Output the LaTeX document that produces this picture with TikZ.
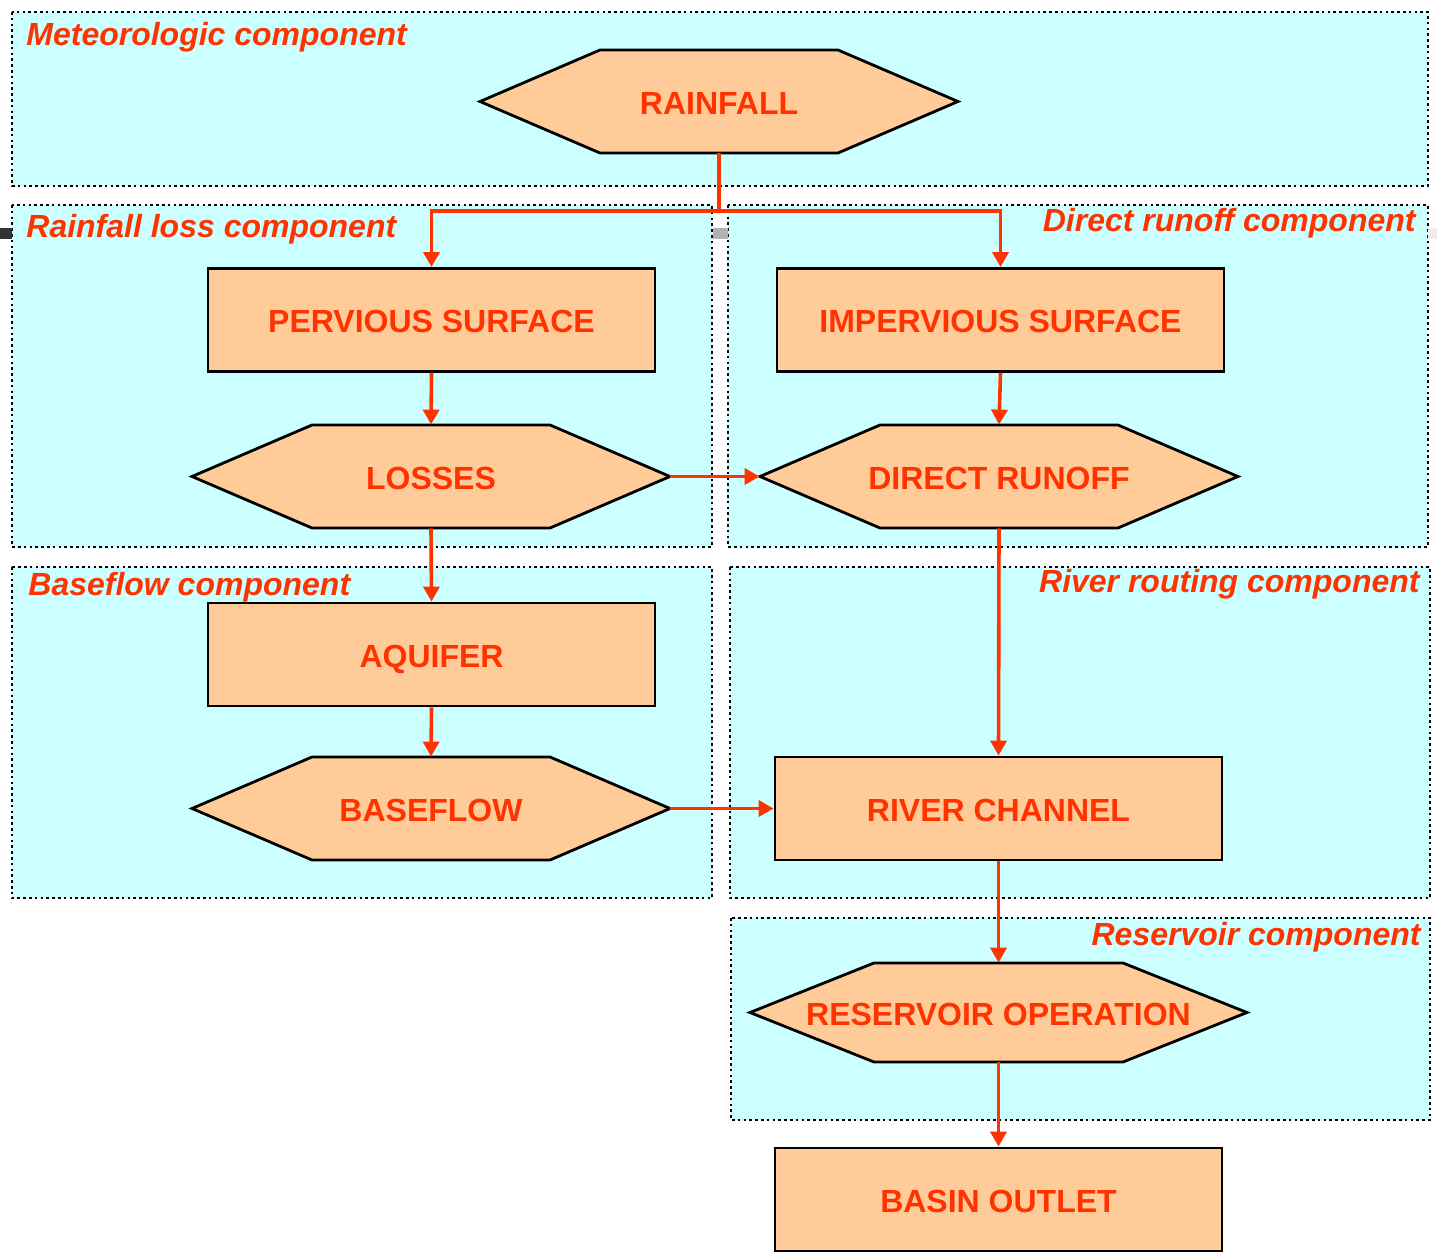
\documentclass[tikz,border=0pt]{standalone}
\usepackage{fontspec}
\setmainfont{Liberation Sans}
\usetikzlibrary{arrows.meta}

\definecolor{panelfill}{HTML}{CCFFFF}
\definecolor{boxfill}{HTML}{FFCC99}
\definecolor{flowred}{HTML}{FF3300}

\tikzset{
  panel/.style={fill=panelfill, draw=black, line width=1.3pt, dash pattern=on 1.3pt off 1.6pt},
  paneltitle/.style={text=flowred, font=\fontsize{16}{18}\selectfont\bfseries\itshape, inner sep=0pt},
  boxlabel/.style={text=flowred, font=\fontsize{16}{18}\selectfont\bfseries, inner sep=0pt,
    text height=12.96pt, text depth=0pt},
  rectbox/.style={boxlabel, draw=black, fill=boxfill, line width=1.4pt, minimum width=223.5pt, minimum height=51.5pt},
  hexspace/.style={boxlabel, minimum width=#1, minimum height=51.5pt},
  hexedge/.style={draw=black, fill=boxfill, line width=1.4pt, line join=miter},
  flow/.style={draw=flowred, line width=1.8pt, -{Triangle[length=7.5pt,width=8pt]}},
  flowline/.style={draw=flowred, line width=1.8pt}
}

% hexagon outline: centre x, centre y, half width, half height, pointer depth
\newcommand\hexoutline[5]{%
  \path[hexedge] ({#1-#3},#2) -- ({#1-#3+#5},{#2-#4}) -- ({#1+#3-#5},{#2-#4})
    -- ({#1+#3},#2) -- ({#1+#3-#5},{#2+#4}) -- ({#1-#3+#5},{#2+#4}) -- cycle;}

\begin{document}
\begin{tikzpicture}[x=0.5pt, y=-0.5pt]
  \useasboundingbox (0,0) rectangle (1437,1257);

  % component panels
  \path[panel] (12,12) rectangle (1428,186);
  \path[panel] (12,205) rectangle (712,547);
  \path[panel] (728,205) rectangle (1428,547);
  \path[panel] (12,567) rectangle (712,898);
  \path[panel] (730,567) rectangle (1430,898);
  \path[panel] (731,918) rectangle (1430,1120);

  % small marks
  \fill[black!80] (0,228) rectangle (12,239);
  \fill[black!30] (713,228) rectangle (728,239);
  \fill[black!7] (1428,228) rectangle (1437,239);

  % panel titles
  \node[paneltitle, anchor=base west] (tmet) at (26,46) {Meteorologic component};
  \node[paneltitle, anchor=base west] (tloss) at (26,238) {Rainfall loss component};
  \node[paneltitle, anchor=base east] (tdir) at (1416,232) {Direct runoff component};
  \node[paneltitle, anchor=base west] (tbase) at (28,596) {Baseflow component};
  \node[paneltitle, anchor=base east] (triver) at (1420,593) {River routing component};
  \node[paneltitle, anchor=base east] (tres) at (1421,945) {Reservoir component};

  % hexagonal nodes
  \hexoutline{719}{101.5}{239}{51.5}{120}
  \node[hexspace=239pt] (rain) at (719,101.5) {RAINFALL};
  \hexoutline{431}{476.5}{239}{51.5}{120}
  \node[hexspace=239pt] (loss) at (431,476.5) {LOSSES};
  \hexoutline{999}{476.5}{239}{51.5}{120}
  \node[hexspace=239pt] (drun) at (999,476.5) {DIRECT RUNOFF};
  \hexoutline{431}{808.5}{239}{51.5}{120}
  \node[hexspace=239pt] (bflow) at (431,808.5) {BASEFLOW};
  \hexoutline{998.5}{1012.5}{248.5}{49.5}{124}
  \node[hexspace=248.5pt, minimum height=49.5pt] (resop) at (998.5,1012.5) {RESERVOIR OPERATION};

  % rectangular nodes
  \node[rectbox] (perv) at (431.5,320) {PERVIOUS SURFACE};
  \node[rectbox] (imperv) at (1000.5,320) {IMPERVIOUS SURFACE};
  \node[rectbox] (aquif) at (431.5,654.5) {AQUIFER};
  \node[rectbox] (river) at (998.5,808.5) {RIVER CHANNEL};
  \node[rectbox] (outlet) at (998.5,1199.5) {BASIN OUTLET};

  % flow connectors
  \coordinate (split) at (719,211);
  \draw[flowline] (rain.south) -- (split);
  \draw[flow] (split) -| (perv.north);
  \draw[flow] (split) -| (imperv.north);
  \draw[flow] (perv.south) -- (loss.north);
  \draw[flow] (imperv.south) -- (drun.north);
  \draw[flow] (loss.east) -- (drun.west);
  \draw[flow] (loss.south) -- (aquif.north);
  \draw[flow] (aquif.south) -- (bflow.north);
  \draw[flow] (bflow.east) -- (river.west);
  \draw[flow] (drun.south) -- (river.north);
  \draw[flow] (river.south) -- (resop.north);
  \draw[flow] (resop.south) -- (outlet.north);
\end{tikzpicture}
\end{document}
